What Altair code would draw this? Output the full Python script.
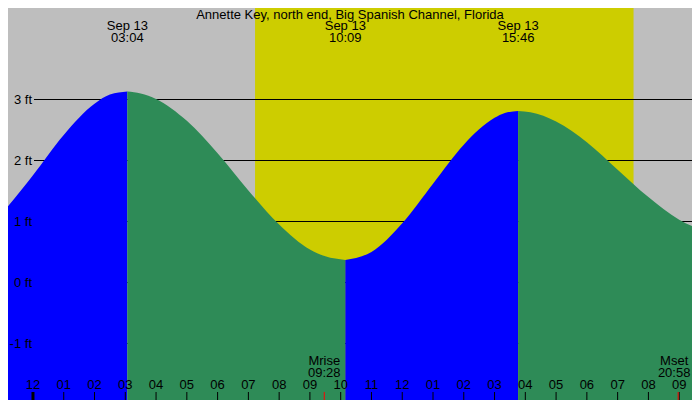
"""Tide chart for Annette Key, north end, Big Spanish Channel."""
import altair as alt
import pandas as pd

TITLE = "Annette Key, north end, Big Spanish Channel, Florida"

# tide curve (ft)
tide_times = [
    "2024-09-12 22:30", "2024-09-12 23:00", "2024-09-13 00:00", "2024-09-13 01:00",
    "2024-09-13 02:00", "2024-09-13 02:30", "2024-09-13 03:04", "2024-09-13 03:30",
    "2024-09-13 04:00", "2024-09-13 05:00", "2024-09-13 06:00", "2024-09-13 07:00",
    "2024-09-13 08:00", "2024-09-13 09:00", "2024-09-13 09:30", "2024-09-13 10:09",
    "2024-09-13 10:30", "2024-09-13 11:00", "2024-09-13 12:00", "2024-09-13 13:00",
    "2024-09-13 14:00", "2024-09-13 15:00", "2024-09-13 15:20", "2024-09-13 15:46",
    "2024-09-13 16:10", "2024-09-13 17:00", "2024-09-13 18:00", "2024-09-13 19:00",
    "2024-09-13 20:00", "2024-09-13 21:00", "2024-09-13 21:40", "2024-09-13 22:12",
]
tide_heights = [
    0.87, 1.14, 1.76, 2.42,
    2.93, 3.08, 3.13, 3.10,
    3.01, 2.65, 2.12, 1.51,
    0.95, 0.54, 0.43, 0.37,
    0.40, 0.50, 0.97, 1.62,
    2.26, 2.70, 2.78, 2.81,
    2.79, 2.64, 2.30, 1.85,
    1.40, 1.03, 0.88, 0.83,
]

extreme_times = ["2024-09-13 03:04", "2024-09-13 10:09", "2024-09-13 15:46", "2024-09-13 22:12"]
extreme_dates = ["Sep 13", "Sep 13", "Sep 13", "Sep 13"]
extreme_labels = ["03:04", "10:09", "15:46", "22:12"]

sun_times = ["2024-09-13 07:13", "2024-09-13 19:31"]
moon_times = ["2024-09-13 09:28", "2024-09-13 20:58"]
moon_names = ["Mrise", "Mset"]
moon_labels = ["09:28", "20:58"]

level_ticks = [-1, 0, 1, 2, 3]
level_labels = ["-1 ft", "0 ft", "1 ft", "2 ft", "3 ft"]

hour_ticks = [0, 1, 2, 3, 4, 5, 6, 7, 8, 9, 10, 11, 12, 13, 14, 15, 16, 17, 18, 19, 20, 21]
hour_labels = ["12", "01", "02", "03", "04", "05", "06", "07", "08", "09", "10", "11",
               "12", "01", "02", "03", "04", "05", "06", "07", "08", "09"]

x_start, x_end = "2024-09-12 23:11:18", "2024-09-13 21:25"

MIDNIGHT = pd.Timestamp("2024-09-13 00:00")
FONT = "Liberation Sans"
FS = 13
W, H = 684, 392


def to_hours(stamps):
    """Hours since midnight Sep 13."""
    return [(pd.Timestamp(s) - MIDNIGHT).total_seconds() / 3600 for s in stamps]


def label_layer(df, field, y, dx=0):
    """Centred text at a time position, y is the baseline in pixels."""
    return alt.Chart(df).mark_text(font=FONT, fontSize=FS, baseline="alphabetic",
                                   color="black", dx=dx).encode(
        x=alt.X("hour:Q", scale=x_scale, axis=None), y=alt.value(y), text=f"{field}:N")


ext_hours = to_hours(extreme_times)
rows = []
for t, h in zip(to_hours(tide_times), tide_heights):
    seg = sum(t > e + 1e-9 for e in ext_hours)
    rows.append({"hour": t, "height": h, "segment": seg})
    if any(abs(t - e) < 1e-9 for e in ext_hours):
        rows.append({"hour": t, "height": h, "segment": seg + 1})
tide = pd.DataFrame(rows)
tide["direction"] = tide["segment"].map(lambda s: "rising" if s % 2 == 0 else "falling")

x_scale = alt.Scale(domain=to_hours([x_start, x_end]), nice=False, zero=False)
y_scale = alt.Scale(domain=[4.5 - H / 61, 4.5], nice=False, zero=False)

daylight = alt.Chart(pd.DataFrame({"start": [to_hours(sun_times)[0]],
                                   "end": [to_hours(sun_times)[1]]})).mark_rect(
    color="#CDCD00").encode(
    x=alt.X("start:Q", scale=x_scale, axis=None),
    x2="end:Q",
    y=alt.value(0),
    y2=alt.value(H),
)

levels = pd.DataFrame({"level": level_ticks, "label": level_labels})
grid = alt.Chart(levels).mark_rule(color="black", strokeWidth=1).encode(
    y=alt.Y("level:Q", scale=y_scale, axis=None),
    x=alt.value(26),
    x2=alt.value(W),
)

water = alt.Chart(tide).mark_area(interpolate="monotone", clip=True).encode(
    x=alt.X("hour:Q", scale=x_scale, axis=None),
    y=alt.Y("height:Q", scale=y_scale, axis=None, stack=None),
    y2=alt.value(H),
    color=alt.Color("direction:N", legend=None,
                    scale=alt.Scale(domain=["rising", "falling"], range=["#0000FF", "#2E8B57"])),
    detail="segment:N",
)

level_text = alt.Chart(levels).mark_text(font=FONT, fontSize=FS, align="right",
                                         baseline="alphabetic", dy=4.5, color="black").encode(
    y=alt.Y("level:Q", scale=y_scale, axis=None),
    x=alt.value(24),
    text="label:N",
)

extremes = pd.DataFrame({"hour": ext_hours, "date": extreme_dates, "time": extreme_labels})
ext_date = label_layer(extremes, "date", 22)
ext_time = label_layer(extremes, "time", 34)

moon = pd.DataFrame({"hour": to_hours(moon_times), "name": moon_names, "time": moon_labels})
moonrise, moonset = moon.iloc[[0]], moon.iloc[[1]]
moon_name = label_layer(moonrise, "name", 357)
moon_time = label_layer(moonrise, "time", 369)
# pulled in a little so it is not cut at the page edge
set_name = label_layer(moonset, "name", 357, dx=-4)
set_time = label_layer(moonset, "time", 369, dx=-4)
moon_tick = alt.Chart(moon).mark_rule(color="#FF0000", strokeWidth=1).encode(
    x=alt.X("hour:Q", scale=x_scale, axis=None), y=alt.value(H - 8), y2=alt.value(H))

hours = pd.DataFrame({"hour": hour_ticks, "label": hour_labels})
hour_tick = alt.Chart(hours).mark_rule(color="black", strokeWidth=1).encode(
    x=alt.X("hour:Q", scale=x_scale, axis=None), y=alt.value(H - 8), y2=alt.value(H))
midnight_tick = alt.Chart(hours[hours["hour"] == 0]).mark_rule(
    color="black", strokeWidth=3).encode(
    x=alt.X("hour:Q", scale=x_scale, axis=None), y=alt.value(H - 8), y2=alt.value(H))
hour_text = label_layer(hours, "label", 381)

title = alt.Chart(pd.DataFrame({"t": [TITLE]})).mark_text(
    font=FONT, fontSize=FS, baseline="alphabetic", color="black").encode(
    text="t:N", x=alt.value(342), y=alt.value(10.5))

chart = alt.layer(
    daylight, grid, water, level_text, ext_date, ext_time,
    moon_name, moon_time, set_name, set_time,
    hour_tick, midnight_tick, moon_tick, hour_text, title,
).properties(
    width=W, height=H, padding=0, autosize="none", background="#BEBEBE",
).configure_view(fill="#BEBEBE", strokeWidth=0)

chart.save("out.html", embed_options={"renderer": "svg", "actions": False})
